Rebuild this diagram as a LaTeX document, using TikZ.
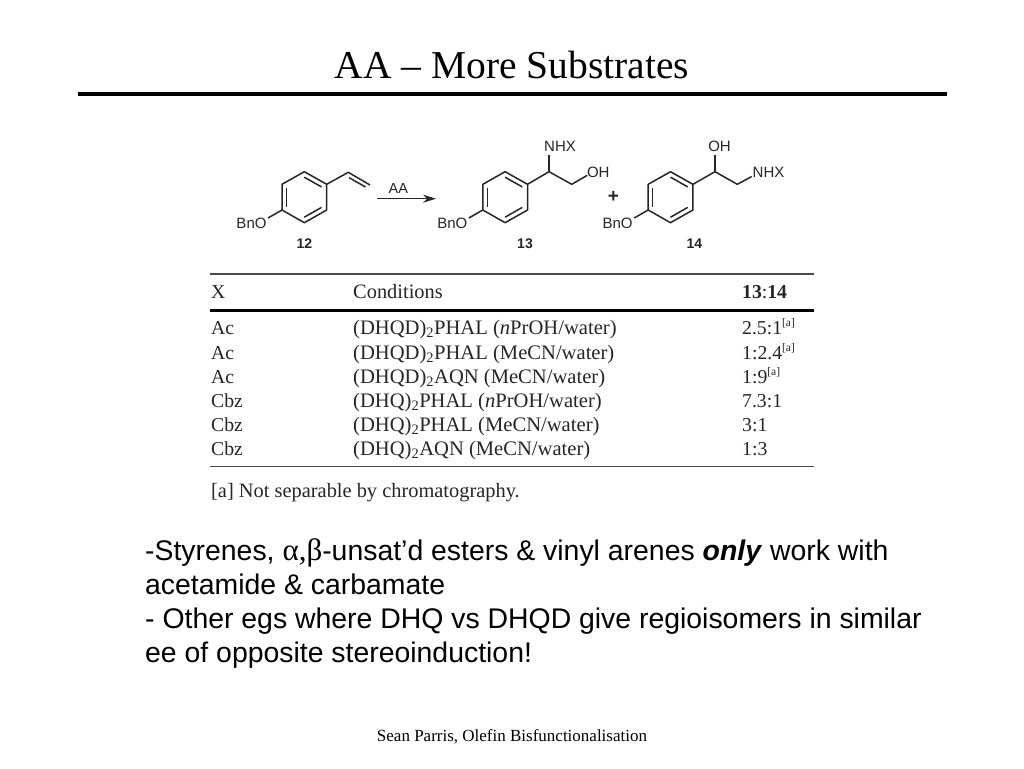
\documentclass[tikz,border=0pt]{standalone}
\usepackage{fontspec}
\setmainfont{Liberation Serif}
\newfontfamily\arialf{Liberation Sans}
\usetikzlibrary{arrows.meta}
\colorlet{tabink}{black!85}
\colorlet{chemink}{black!85}
\tikzset{
  titletext/.style={anchor=base,inner sep=0pt,font=\fontsize{39.5}{44}\selectfont},
  foottext/.style={anchor=base,inner sep=0pt,font=\fontsize{17}{20}\selectfont},
  bodytext/.style={anchor=base west,inner sep=0pt,font=\arialf\fontsize{28.4}{34}\selectfont},
  tabcell/.style={anchor=base west,inner sep=0pt,text=tabink,font=\fontsize{19.7}{22}\selectfont},
  tabcond/.style={tabcell,font=\fontsize{20.6}{23}\selectfont},
  tabnote/.style={tabcell,font=\fontsize{20.4}{23}\selectfont},
  chemlabel/.style={anchor=center,inner sep=0pt,text=chemink,font=\arialf\fontsize{15}{17}\selectfont},
  chemnum/.style={anchor=center,inner sep=0pt,text=chemink,font=\arialf\bfseries\fontsize{14}{16}\selectfont},
  bond/.style={draw=chemink,line width=1.5pt,line join=round},
  tabrule/.style={draw=black!70,line width=1.2pt},
  tabrulethick/.style={draw=black,line width=2.2pt},
}
\newcommand{\ringunit}[1]{%
  \begin{scope}[xshift=#1pt]
    \draw[bond] (304.3,171.7) -- (326.7,184.3) -- (326.7,210) -- (304.3,222.7) -- (282,210) -- (282,184.3) -- cycle;
    \draw[bond] (286.5,188) -- (286.5,206.5);
    \draw[bond] (304.3,177.2) -- (321.5,186.9);
    \draw[bond] (304.3,217.2) -- (321.5,207.4);
    \draw[bond] (282,210) -- (268,218);
  \end{scope}}
\newcommand{\sbtwo}{\textsubscript{2}}
\newcommand{\sptag}{\raisebox{0.42em}{\fontsize{11.5}{12}\selectfont[a]}}
\begin{document}
\begin{tikzpicture}[x=1pt,y=-1pt]
\useasboundingbox (0,0) rectangle (1024,768);
\fill[white] (0,0) rectangle (1024,768);
% title
\node[titletext] (title) at (512,78.5) {AA – More Substrates};
\coordinate (ruleL) at (78,94);
\coordinate (ruleR) at (947,94);
\draw[line width=4pt] (ruleL) -- (ruleR);
% compound 12
\ringunit{0}
\draw[bond] (326.7,184.3) -- (348.3,172.3) -- (370,185);
\draw[bond] (349,177.6) -- (365.5,187);
\node[chemlabel] (bn12) at (251.5,223.5) {BnO};
\node[chemnum] (n12) at (304.3,244) {12};
% arrow
\node[chemlabel,font=\arialf\fontsize{14.5}{17}\selectfont] (aa) at (398.3,188.5) {AA};
\coordinate (arrA) at (377.3,198.7);
\coordinate (arrB) at (436,198.7);
\draw[bond,line width=1.1pt,-{Stealth[length=13pt,width=8pt]}] (arrA) -- (arrB);
% compound 13
\ringunit{200.8}
\draw[bond] (527.5,184.3) -- (549,171.7) -- (571.7,184.3) -- (587.3,175.3);
\draw[bond] (549,171.7) -- (549,155);
\node[chemlabel] (nhx13) at (560,146.5) {NHX};
\node[chemlabel] (oh13) at (598.3,172) {OH};
\node[chemlabel] (bn13) at (452.3,223.5) {BnO};
\node[chemnum] (n13) at (525,244) {13};
% plus
\node[chemlabel,font=\arialf\bfseries\fontsize{19}{20}\selectfont] (plus) at (613.3,196.7) {+};
% compound 14
\ringunit{366.2}
\draw[bond] (692.9,184.3) -- (715,171.7) -- (737.3,184.3) -- (751.7,176.5);
\draw[bond] (715,171.7) -- (715,155);
\node[chemlabel] (oh14) at (719.5,146.5) {OH};
\node[chemlabel] (nhx14) at (768.5,172) {NHX};
\node[chemlabel] (bn14) at (617.5,223.5) {BnO};
\node[chemnum] (n14) at (694.3,244) {14};
% table
\draw[tabrule] (210,274) -- (814,274);
\draw[tabrulethick] (210,310.5) -- (814,310.5);
\draw[tabrule] (210,466.8) -- (814,466.8);
\node[tabcell] (hx) at (211,298.5) {X};
\node[tabnote] (hc) at (353,298.5) {Conditions};
\node[tabcell] (hr) at (742,298.5) {\textbf{13}:\textbf{14}};
\node[tabcell] (x1) at (211,334.5) {Ac};
\node[tabcond] (c1) at (353,334.5) {(DHQD)\sbtwo PHAL (\textit{n}PrOH/water)};
\node[tabcell] (r1) at (742,334.5) {2.5:1\sptag};
\node[tabcell] (x2) at (211,359.5) {Ac};
\node[tabcond] (c2) at (353,359.5) {(DHQD)\sbtwo PHAL (MeCN/water)};
\node[tabcell] (r2) at (742,359.5) {1:2.4\sptag};
\node[tabcell] (x3) at (211,383.5) {Ac};
\node[tabcond] (c3) at (353,383.5) {(DHQD)\sbtwo AQN (MeCN/water)};
\node[tabcell] (r3) at (742,383.5) {1:9\sptag};
\node[tabcell] (x4) at (211,407.5) {Cbz};
\node[tabcond] (c4) at (353,407.5) {(DHQ)\sbtwo PHAL (\textit{n}PrOH/water)};
\node[tabcell] (r4) at (742,407.5) {7.3:1};
\node[tabcell] (x5) at (211,431.5) {Cbz};
\node[tabcond] (c5) at (353,431.5) {(DHQ)\sbtwo PHAL (MeCN/water)};
\node[tabcell] (r5) at (742,431.5) {3:1};
\node[tabcell] (x6) at (211,455.5) {Cbz};
\node[tabcond] (c6) at (353,455.5) {(DHQ)\sbtwo AQN (MeCN/water)};
\node[tabcell] (r6) at (742,455.5) {1:3};
\node[tabnote] (fn) at (211,497) {[a] Not separable by chromatography.};
% body
\node[bodytext] (l1) at (145,560.5) {-Styrenes, {\rmfamily\fontsize{31}{34}\selectfont α,β}-unsat’d esters \& vinyl arenes \textbf{\textit{only}} work with};
\node[bodytext] (l2) at (145,594.5) {acetamide \& carbamate};
\node[bodytext] (l3) at (145,628.5) {- Other egs where DHQ vs DHQD give regioisomers in similar};
\node[bodytext] (l4) at (145,662.5) {ee of opposite stereoinduction!};
% footer
\node[foottext] (foot) at (512,741) {Sean Parris, Olefin Bisfunctionalisation};
\end{tikzpicture}
\end{document}
